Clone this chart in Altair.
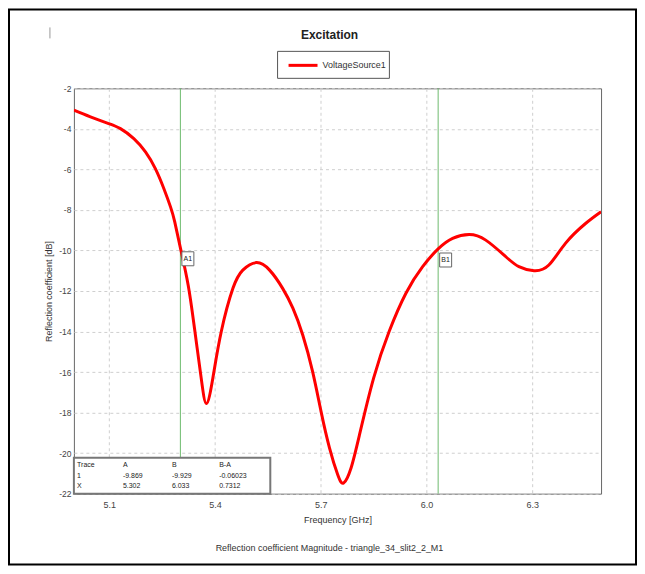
import altair as alt
import pandas as pd

# ---------------- data ----------------
FREQ = [5.000, 5.047, 5.099, 5.132, 5.170, 5.203, 5.231, 5.255, 5.274, 5.286,
        5.302, 5.324, 5.342, 5.361, 5.376, 5.394, 5.418, 5.451, 5.479, 5.517,
        5.555, 5.592, 5.621, 5.649, 5.677, 5.701, 5.725, 5.748, 5.765, 5.786,
        5.810, 5.850, 5.894, 5.942, 5.989, 6.033, 6.074, 6.121, 6.168, 6.225,
        6.262, 6.305, 6.347, 6.394, 6.451, 6.495]
S11_DB = [-3.08, -3.41, -3.74, -3.99, -4.48, -5.14, -5.96, -6.94, -7.85, -8.59,
          -9.87, -11.70, -13.84, -16.30, -17.55, -16.30, -14.00, -11.87, -10.97, -10.60,
          -10.97, -11.87, -12.85, -14.17, -15.98, -17.95, -19.75, -21.06, -21.47, -20.73,
          -19.09, -16.30, -14.00, -12.10, -10.80, -9.92, -9.40, -9.21, -9.49, -10.31,
          -10.80, -11.00, -10.72, -9.65, -8.67, -8.09]
SERIES = ["VoltageSource1"]

MARKER_NAMES = ["A1", "B1"]
MARKER_FREQ = [5.302, 6.033]
MARKER_DB = [-9.869, -9.929]

TABLE_HEADER = ["Trace", "A", "B", "B-A"]
TABLE_ROW1 = ["1", "-9.869", "-9.929", "-0.06023"]
TABLE_ROW2 = ["X", "5.302", "6.033", "0.7312"]

X_TICKS = [5.1, 5.4, 5.7, 6.0, 6.3]
Y_TICKS = [-22, -20, -18, -16, -14, -12, -10, -8, -6, -4, -2]

TITLE = "Excitation"
X_TITLE = "Frequency [GHz]"
Y_TITLE = "Reflection coefficient [dB]"
CAPTION = ["Reflection coefficient Magnitude - triangle_34_slit2_2_M1"]

# ---------------- layout constants (not data) ----------------
FONT = "Liberation Sans"
RED = "#ff0000"
X_DOMAIN = [5.0, 6.495]
Y_DOMAIN = [-22, -2]
TABLE_COL_X = [5.009, 5.139, 5.278, 5.412]
TABLE_ROW_Y = [-20.57, -21.11, -21.61]
TABLE_BOX = dict(x=5.0, x2=5.557, y=-20.23, y2=-22.0)

curve = pd.DataFrame({"freq": FREQ, "db": S11_DB, "series": SERIES[0]})
markers = pd.DataFrame({"name": MARKER_NAMES, "freq": MARKER_FREQ, "db": MARKER_DB})

rows = []
for r, row in enumerate([TABLE_HEADER, TABLE_ROW1, TABLE_ROW2]):
    for c, txt in enumerate(row):
        rows.append({"text": txt, "tx": TABLE_COL_X[c], "ty": TABLE_ROW_Y[r]})
table = pd.DataFrame(rows)

xs = alt.Scale(domain=X_DOMAIN, nice=False, zero=False)
ys = alt.Scale(domain=Y_DOMAIN, nice=False, zero=False)

x_axis = alt.Axis(values=X_TICKS, format=".1f", title=X_TITLE, titleY=22,
                  labelPadding=7, labelFontSize=9)
y_axis = alt.Axis(values=Y_TICKS, labelExpr="'' + datum.value", title=Y_TITLE,
                  titleX=-20, labelPadding=3, labelFontSize=8.5)


def X(field):
    return alt.X(field, scale=xs, axis=x_axis)


def Y(field):
    return alt.Y(field, scale=ys, axis=y_axis)


one = pd.DataFrame({"a": [0]})
legend_df = pd.DataFrame({"label": SERIES})

frame = alt.Chart(one).mark_rect(fillOpacity=0, stroke="black", strokeWidth=2).encode(
    x=alt.value(-65), x2=alt.value(563), y=alt.value(-79), y2=alt.value(477))

artifact = alt.Chart(one).mark_rule(color="#999", strokeWidth=1).encode(
    x=alt.value(-24), y=alt.value(-61), y2=alt.value(-50))

# legend (drawn by hand so its box matches the reference)
leg_box = alt.Chart(legend_df).mark_rect(fill="white", stroke="#555", strokeWidth=1).encode(
    x=alt.value(204), x2=alt.value(316), y=alt.value(-37), y2=alt.value(-10))
leg_line = alt.Chart(legend_df).mark_rule(color=RED, strokeWidth=3).encode(
    x=alt.value(215), x2=alt.value(244), y=alt.value(-23))
leg_text = alt.Chart(legend_df).mark_text(font=FONT, fontSize=9, color="#333",
                                          align="left", baseline="middle").encode(
    x=alt.value(249), y=alt.value(-23), text="label:N")

rules = alt.Chart(markers).mark_rule(color="#6dbb6d", strokeWidth=1).encode(
    x=X("freq:Q"))

line = alt.Chart(curve).mark_line(strokeWidth=3, interpolate="natural", clip=True,
                                  color=RED).encode(
    x=X("freq:Q"),
    y=Y("db:Q"),
    detail="series:N",
)

box = alt.Chart(one).mark_rect(fill="white", stroke="#777", strokeWidth=2).encode(
    x=X("bx:Q"), x2="bx2:Q",
    y=Y("by:Q"), y2="by2:Q",
).transform_calculate(bx=str(TABLE_BOX["x"]), bx2=str(TABLE_BOX["x2"]),
                      by=str(TABLE_BOX["y"]), by2=str(TABLE_BOX["y2"]))

table_text = alt.Chart(table).mark_text(align="left", baseline="middle", font=FONT,
                                        fontSize=7, color="#222").encode(
    x=X("tx:Q"), y=Y("ty:Q"), text="text:N")

mbox = alt.Chart(markers).mark_rect(width=12, height=14, xOffset=7.5, yOffset=11,
                                    fill="white", stroke="#666", strokeWidth=1).encode(
    x=X("freq:Q"), y=Y("db:Q"))

mtext = alt.Chart(markers).mark_text(dx=7.5, dy=11, font=FONT, fontSize=7,
                                     color="#222", baseline="middle").encode(
    x=X("freq:Q"), y=Y("db:Q"), text="name:N")

caption = alt.Chart(pd.DataFrame({"t": CAPTION})).mark_text(
    font=FONT, fontSize=9, color="#333", baseline="middle").encode(
    x=alt.value(256), y=alt.value(460), text="t:N")

chart = alt.layer(rules, line, box, table_text, mbox, mtext,
                  frame, artifact, leg_box, leg_line, leg_text, caption).properties(
    width=528, height=406,
    autosize="none",
    padding={"left": 66, "top": 80, "right": 36, "bottom": 72},
    title=alt.TitleParams(TITLE, font=FONT, fontSize=12, fontWeight="bold",
                          color="#222", anchor="middle", offset=-34, dx=-8),
    background="white",
).configure_view(stroke="#666", strokeWidth=1).configure_axis(
    labelFont=FONT, labelColor="#444",
    titleFont=FONT, titleFontSize=9, titleColor="#333", titleFontWeight="normal",
    grid=True, gridColor="#cfcfcf", gridDash=[3, 3], gridWidth=1,
    domain=False, ticks=False, tickSize=0,
)

chart.save("out.html", embed_options={"renderer": "svg", "actions": False})
